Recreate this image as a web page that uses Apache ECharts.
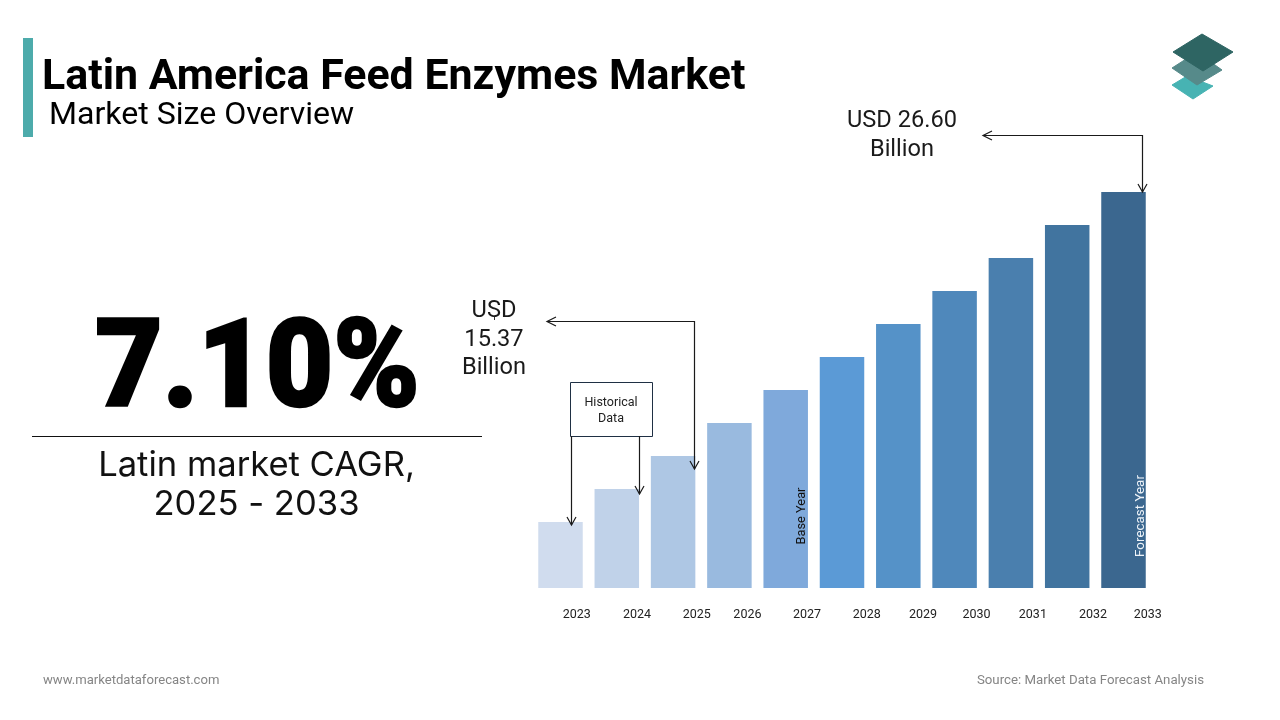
<!DOCTYPE html>
<html><head><meta charset="utf-8">
<style>html,body{margin:0;padding:0;background:#fff}#c{width:1280px;height:720px}</style>
<script src="https://cdn.jsdelivr.net/npm/echarts@6/dist/echarts.min.js"></script>
</head><body><div id="c"></div>
<script>
const categories = ['2023','2024','2025','2026','2027','2028','2029','2030','2031','2032','2033'];
// Bar heights as drawn, read against the 26.60 top bar
const marketSize = [4.43,6.65,8.87,11.08,13.30,15.52,17.73,19.95,22.17,24.38,26.60];
const barColors = ['#d0dcee','#c0d2e9','#aec7e4','#99badf','#7fa9db','#5b9ad6','#5592c8','#4f88bb','#4a7fae','#41749f','#3b678f'];
const title = 'Latin America Feed Enzymes Market';
const subtitle = 'Market Size Overview';
const cagrValue = '7.10%';
const cagrLabel = 'Latin market CAGR,\n2025 - 2033';
const startLabel = 'USD\n15.37\nBillion';
const endLabel = 'USD 26.60\nBillion';

const tickOffsets = [0.29,0.36,0.42,0.32,0.38,0.44,0.44,0.39,0.39,0.46,0.43];
const tickPositions = categories.map((c,i)=>i+tickOffsets[i]);

const chart = echarts.init(document.getElementById('c'), null, {renderer:'canvas'});
const ink = '#1a1a1a';
function line(points, color, w){ return {type:'polyline', z:20, silent:true, shape:{points}, style:{stroke:color||ink, lineWidth:w||1.2, fill:null}}; }
function txt(x,y,text,font,fill,align,lh,rotation){
  return {type:'text', z:30, x, y, rotation:rotation||0, silent:true, style:{x:0,y:0,text, font, fill:fill||'#000', align:align||'left', verticalAlign:'middle', lineHeight:lh}};
}
function poly(points, fill){ return {type:'polygon', z:10, silent:true, shape:{points}, style:{fill, stroke:fill, lineWidth:1, lineJoin:'round'}}; }
const big = txt(257.5,375.5,cagrValue,'900 122px Roboto','#000','center');
big.scaleX = 0.955;
big.style.stroke = '#000';
big.style.lineWidth = 2.5;
const gr = [
  {type:'rect', z:10, silent:true, shape:{x:23,y:38,width:10,height:99}, style:{fill:'#4dabab'}},
  txt(42,78,title,'700 42.9px Roboto','#000'),
  txt(49,116,subtitle,'400 32.1px Roboto','#000'),
  big,
  line([[32,436.5],[482,436.5]],'#111',1),
  txt(256.5,485,cagrLabel,'400 34.6px Inter','#111','center',39.5),
  txt(902,136,endLabel,'400 23.6px Roboto','#1a1a1a','center',29),
  txt(494,340,startLabel,'400 23.6px Roboto','#1a1a1a','center',28.5),
  line([[494.5,317],[494.5,320]],'#333',1),
  // arrows
  line([[983,135.5],[1142.5,135.5],[1142.5,192]]),
  line([[992,131],[983,135.5],[992,140]]),
  line([[1138,184],[1142.5,192],[1147,184]]),
  line([[547,321.5],[694.5,321.5],[694.5,469]]),
  line([[556,317],[547,321.5],[556,326]]),
  line([[690,461],[694.5,469],[699,461]]),
  // historical box
  {type:'rect', z:15, silent:true, shape:{x:570.5,y:382.5,width:82,height:54}, style:{fill:'#fff',stroke:'#1f3044',lineWidth:1}},
  txt(611,411,'Historical\nData','400 12.5px Roboto','#222','center',16),
  line([[571.5,436],[571.5,525]]),
  line([[567,517],[571.5,525],[576,517]]),
  line([[639.5,436],[639.5,494]]),
  line([[635,486],[639.5,494],[644,486]]),
  // rotated notes
  txt(802,516,'Base Year','400 12.8px Roboto','#111','center',14,Math.PI/2),
  txt(1141,516,'Forecast Year','400 13.4px Roboto','#eef3f8','center',14,Math.PI/2),
  // logo
  poly([[1172,85],[1187,76],[1213,86],[1193,99]],'#47b3b3'),
  poly([[1172,68],[1197,52],[1222,70],[1197,85]],'#568a8a'),
  poly([[1173,52],[1202,34],[1233,52],[1203,71]],'#2e6563'),
  // footer
  txt(43,681,'www.marketdataforecast.com','400 13.1px Roboto','#858585'),
  txt(1204,681,'Source: Market Data Forecast Analysis','400 13.25px Roboto','#858585','right')
];
chart.setOption({
  animation:false,
  backgroundColor:'#fff',
  grid:{left:532.35,width:619.3,top:192,height:396,containLabel:false},
  xAxis:[
    {type:'category',data:categories,axisLine:{show:false},axisTick:{show:false},axisLabel:{show:false}},
    {type:'value',position:'bottom',min:-0.5,max:10.5,splitLine:{show:false},axisLine:{show:false},axisTick:{show:false},
     axisLabel:{show:true,customValues:tickPositions,margin:20,fontFamily:'Roboto',fontSize:12.5,color:'#222',hideOverlap:false,showMinLabel:true,showMaxLabel:true,
       formatter:function(v){ const i=Math.floor(v+1e-6); return categories[i]||''; }}}
  ],
  yAxis:{type:'value',min:0,max:26.6,show:false,splitLine:{show:false}},
  series:[{type:'bar',xAxisIndex:0,barWidth:44.5,silent:true,
    data:marketSize.map((v,i)=>({value:v,itemStyle:{color:barColors[i]}}))}],
  graphic:gr
});
</script></body></html>
